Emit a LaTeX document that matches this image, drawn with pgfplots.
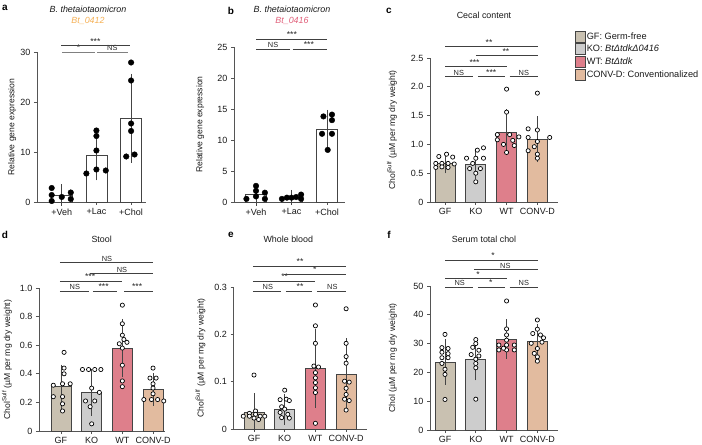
\documentclass[border=0pt]{standalone}
\usepackage{fontspec}
\setmainfont{Liberation Sans}
\usepackage{pgfplots}
\pgfplotsset{compat=1.18}

\definecolor{gfcol}{HTML}{C9C1B1}
\definecolor{kocol}{HTML}{CDCDCD}
\definecolor{wtcol}{HTML}{DE7F8B}
\definecolor{cvcol}{HTML}{E2BB9F}
\definecolor{orangeT}{HTML}{F5B055}
\definecolor{pinkT}{HTML}{E0607A}
\definecolor{axcol}{HTML}{555555}
\definecolor{edgecol}{HTML}{444444}

\newcommand{\fs}[1]{\fontsize{#1}{#1}\selectfont}

\pgfplotsset{
  panel/.style={
    scale only axis, clip=false,
    axis x line*=bottom, axis y line*=left,
    axis line style={draw=axcol, line width=0.8bp},
    tick align=outside,
    major tick length=3bp,
    every tick/.style={draw=axcol, line width=0.8bp},
    tick label style={font=\fs{9bp}, text=black!90},
    every axis y label/.style={rotate=90, anchor=center, font=\fs{8.6bp}, text=black!90},
  },
  bbar/.style 2 args={ybar, bar shift=0pt, bar width=#1, draw=edgecol, line width=0.8bp,
    /pgfplots/error bars/y dir=both, /pgfplots/error bars/y explicit,
    /pgfplots/error bars/error bar style={draw=edgecol, line width=0.8bp},
    /pgfplots/error bars/error mark options={draw=edgecol, line width=0.8bp, mark size=#2}},
  adot/.style={only marks, mark=*, mark size=2.8bp, mark options={fill=black, draw=black}},
  odot/.style={only marks, mark=*, mark size=2.1bp, mark options={fill=white, draw=black, line width=0.7bp}},
}
\tikzset{
  sigline/.style={draw=black!75, line width=0.6bp},
  sigthick/.style={draw=black!50, line width=1.4bp},
  sigtext/.style={anchor=south, inner sep=1.2bp, font=\fs{7.4bp}, text=black!85},
}
\newcommand{\st}[1]{{\fs{8.6bp}#1}}
\newcommand{\sig}[6][sigline]{\draw[#1] (axis cs:#2,#4) -- (axis cs:#3,#4); \node[sigtext] at (axis cs:#5,#4) {#6};}

\begin{document}
\begin{tikzpicture}
\useasboundingbox (0,0) rectangle (702bp,445bp);

% panel letters and titles
\node[font=\bfseries\fs{10bp}] at (5bp,437bp) {a};
\node[font=\bfseries\fs{10bp}] at (231bp,434bp) {b};
\node[font=\bfseries\fs{10bp}] at (389bp,434bp) {c};
\node[font=\bfseries\fs{10bp}] at (5bp,210bp) {d};
\node[font=\bfseries\fs{10bp}] at (231bp,210bp) {e};
\node[font=\bfseries\fs{10bp}] at (389bp,210bp) {f};
\node[font=\itshape\fs{8.9bp}, text=black!90] at (88bp,435.5bp) {B. thetaiotaomicron};
\node[font=\itshape\fs{8.9bp}, text=orangeT] at (88bp,424.3bp) {Bt\_0412};
\node[font=\itshape\fs{8.9bp}, text=black!90] at (292bp,435.5bp) {B. thetaiotaomicron};
\node[font=\itshape\fs{8.9bp}, text=pinkT] at (292bp,424.3bp) {Bt\_0416};
\node[font=\fs{8.9bp}, text=black!90] at (484bp,430bp) {Cecal content};
\node[font=\fs{8.9bp}, text=black!90] at (101.7bp,206bp) {Stool};
\node[font=\fs{8.9bp}, text=black!90] at (288.3bp,206bp) {Whole blood};
\node[font=\fs{8.9bp}, text=black!90] at (484bp,206bp) {Serum total chol};

% ---------------- panel a
\begin{axis}[panel, at={(37bp,243bp)}, anchor=south west, width=109bp, height=150bp,
  xmin=-0.714, xmax=2.43, ymin=0, ymax=30,
  xtick={0,1,2}, xticklabels={+Veh,+Lac,+Chol},
  ytick={0,10,20,30}, yticklabels={0,10,20,30},
  ylabel={Relative gene expression},
  ylabel style={at={(axis description cs:-0.229,0.5)}}]
\addplot[bbar={21bp}{6.5bp}, fill=white] coordinates {(0,1.35) +- (0,0.85)};
\addplot[bbar={21bp}{6.5bp}, fill=white] coordinates {(1,9.3) +- (0,3.7)};
\addplot[bbar={21bp}{6.5bp}, fill=white] coordinates {(2,16.7) +- (0,7.6)};
\addplot[adot] coordinates {(-0.29,2.8) (-0.29,1.4) (-0.29,0.2) (0,1.0) (0.26,1.9) (0.26,0.6)};
\addplot[adot] coordinates {(1,14.3) (1,13.2) (1,10.3) (1,6.5) (0.71,5.7) (1.27,6.3)};
\addplot[adot] coordinates {(2,27.9) (2,24.3) (2,15.7) (2,14.2) (1.86,9.1) (2.1,9.5)};
\sig[sigthick]{0.02}{0.97}{29.94}{0.486}{\st{*}}
\sig[sigthick]{1.02}{1.91}{29.94}{1.46}{NS}
\sig{-0.01}{1.97}{31.26}{0.97}{\st{***}}
\end{axis}

% ---------------- panel b
\begin{axis}[panel, at={(234bp,243bp)}, anchor=south west, width=111bp, height=155bp,
  xmin=-0.62, xmax=2.507, ymin=0, ymax=25,
  xtick={0,1,2}, xticklabels={+Veh,+Lac,+Chol},
  ytick={0,5,10,15,20,25}, yticklabels={0,5,10,15,20,25},
  ylabel={Relative gene expression},
  ylabel style={at={(axis description cs:-0.306,0.5)}}]
\addplot[bbar={21bp}{6bp}, fill=white] coordinates {(0,1.15) +- (0,0.8)};
\addplot[bbar={21bp}{6bp}, fill=white] coordinates {(1,0.73) +- (0,0.25)};
\addplot[bbar={21bp}{6bp}, fill=white] coordinates {(2,11.7) +- (0,2.2)};
\addplot[adot] coordinates {(0,2.6) (0,1.8) (0,0.9) (-0.27,0.5) (0.25,1.5) (0.25,0.5)};
\addplot[adot] coordinates {(0.73,0.5) (0.87,0.7) (1,0.7) (1.13,0.8) (1.27,1.2) (1.27,0.5)};
\addplot[adot] coordinates {(1.9,13.8) (2.14,14.1) (2.14,13.2) (1.86,11.0) (2.14,11.0) (2.02,8.4)};
\sig{0}{0.96}{24.63}{0.48}{NS}
\sig{1.03}{2}{24.63}{1.49}{\st{***}}
\sig{0}{2}{26.24}{1.01}{\st{***}}
\end{axis}

% ---------------- panel c
\begin{axis}[panel, at={(430bp,243bp)}, anchor=south west, width=128bp, height=144bp,
  xmin=-0.487, xmax=3.67, ymin=0, ymax=2.5,
  xtick={0,1,2,3}, xticklabels={GF,KO,WT,CONV-D},
  ytick={0,0.5,1,1.5,2,2.5}, yticklabels={0,0.5,1.0,1.5,2.0,2.5},
  ylabel={Chol\textsuperscript{Sulf} (µM per mg dry weight)},
  ylabel style={at={(axis description cs:-0.297,0.5)}},
  legend style={at={(1.133,1.19)}, anchor=north west, draw=none, fill=none,
    font=\fs{9.2bp}, text=black!90, inner sep=0pt, row sep=0.8bp,
    nodes={inner sep=0.8bp, text height=7bp, text depth=2bp}},
  legend cell align=left,
  legend image code/.code={\draw[#1] (0bp,-5.5bp) rectangle (10bp,5.5bp);}]
\addlegendimage{fill=gfcol, draw=edgecol, line width=0.8bp}
\addlegendentry{GF: Germ-free}
\addlegendimage{fill=kocol, draw=edgecol, line width=0.8bp}
\addlegendentry{KO: \textit{BtΔtdkΔ0416}}
\addlegendimage{fill=wtcol, draw=edgecol, line width=0.8bp}
\addlegendentry{WT: \textit{BtΔtdk}}
\addlegendimage{fill=cvcol, draw=edgecol, line width=0.8bp}
\addlegendentry{CONV-D: Conventionalized}
\addplot[bbar={20bp}{5bp}, fill=gfcol, forget plot] coordinates {(0,0.67) +- (0,0.085)};
\addplot[bbar={20bp}{5bp}, fill=kocol, forget plot] coordinates {(1,0.66) +- (0,0.18)};
\addplot[bbar={20bp}{5bp}, fill=wtcol, forget plot] coordinates {(2,1.21) +- (0,0.31)};
\addplot[bbar={20bp}{5bp}, fill=cvcol, forget plot] coordinates {(3,1.09) +- (0,0.31)};
\addplot[odot, forget plot] coordinates {(-0.2,0.79) (0.05,0.83) (0.25,0.78) (-0.3,0.67) (-0.1,0.67) (0.1,0.67) (0.3,0.66) (-0.3,0.60) (-0.1,0.61) (0.1,0.60)};
\addplot[odot, forget plot] coordinates {(1.25,0.94) (1.05,0.90) (0.7,0.76) (1,0.76) (1.25,0.76) (0.9,0.67) (0.8,0.58) (1.15,0.58) (1,0.50) (1,0.35)};
\addplot[odot, forget plot] coordinates {(2,1.96) (2,1.56) (1.7,1.17) (2.1,1.17) (2.4,1.13) (1.7,1.08) (2.2,1.07) (1.9,1.0) (2.25,0.98) (2,0.86)};
\addplot[odot, forget plot] coordinates {(3,1.89) (2.7,1.27) (3,1.25) (3.4,1.12) (2.7,1.12) (3,1.05) (2.9,0.96) (2.7,0.89) (3,0.83) (3,0.76)};
\sig{0}{0.91}{2.175}{0.45}{NS}
\sig{1.07}{1.94}{2.175}{1.5}{\st{***}}
\sig{2.1}{3.02}{2.175}{2.56}{NS}
\sig{0}{2.01}{2.35}{0.96}{\st{***}}
\sig{1.0}{3.02}{2.54}{1.98}{\st{**}}
\sig{0}{3.02}{2.70}{1.43}{\st{**}}
\end{axis}

% ---------------- panel d
\begin{axis}[panel, at={(39bp,14bp)}, anchor=south west, width=126bp, height=143bp,
  xmin=-0.717, xmax=3.39, ymin=0, ymax=1,
  xtick={0,1,2,3}, xticklabels={GF,KO,WT,CONV-D},
  ytick={0,0.2,0.4,0.6,0.8,1}, yticklabels={0,0.2,0.4,0.6,0.8,1.0},
  ylabel={Chol\textsuperscript{Sulf} (µM per mg dry weight)},
  ylabel style={at={(axis description cs:-0.254,0.5)}}]
\addplot[bbar={20bp}{5bp}, fill=gfcol] coordinates {(0,0.31) +- (0,0.12)};
\addplot[bbar={20bp}{5bp}, fill=kocol] coordinates {(1,0.27) +- (0,0.13)};
\addplot[bbar={20bp}{5bp}, fill=wtcol] coordinates {(2,0.58) +- (0,0.17)};
\addplot[bbar={20bp}{5bp}, fill=cvcol] coordinates {(3,0.29) +- (0,0.08)};
\addplot[odot] coordinates {(0.1,0.55) (0.1,0.44) (0.1,0.40) (-0.25,0.32) (0.05,0.33) (0.3,0.33) (-0.25,0.24) (0.05,0.24) (0.05,0.19) (0.05,0.14)};
\addplot[odot] coordinates {(0.7,0.43) (0.9,0.43) (1.1,0.43) (1.3,0.43) (1,0.30) (1.25,0.27) (0.8,0.21) (1.1,0.21) (0.95,0.17) (1,0.05)};
\addplot[odot] coordinates {(2,0.88) (2,0.75) (2,0.67) (2.05,0.64) (1.9,0.61) (2.15,0.62) (2,0.58) (2,0.46) (2,0.35) (2,0.31)};
\addplot[odot] coordinates {(3,0.44) (2.9,0.37) (3.1,0.37) (3,0.33) (3,0.30) (3,0.26) (2.7,0.22) (2.95,0.22) (3.15,0.22) (3.35,0.21)};
\sig{-0.04}{0.9}{0.977}{0.45}{NS}
\sig{1.04}{1.82}{0.977}{1.39}{\st{***}}
\sig{2.06}{3.0}{0.977}{2.48}{\st{***}}
\sig{-0.04}{1.99}{1.047}{0.95}{\st{***}}
\sig{0.95}{3.0}{1.10}{1.99}{NS}
\sig{-0.04}{3.0}{1.178}{1.5}{NS}
\end{axis}

% ---------------- panel e
\begin{axis}[panel, at={(233.5bp,16bp)}, anchor=south west, width=133.5bp, height=142bp,
  xmin=-0.668, xmax=3.68, ymin=0, ymax=0.3,
  xtick={0,1,2,3}, xticklabels={GF,KO,WT,CONV-D},
  ytick={0,0.1,0.2,0.3}, yticklabels={0,0.1,0.2,0.3},
  ylabel={Chol\textsuperscript{Sulf} (µM per mg dry weight)},
  ylabel style={at={(axis description cs:-0.247,0.5)}}]
\addplot[bbar={20bp}{5bp}, fill=gfcol] coordinates {(0,0.036) +- (0,0.029)};
\addplot[bbar={20bp}{5bp}, fill=kocol] coordinates {(1,0.041) +- (0,0.022)};
\addplot[bbar={20bp}{5bp}, fill=wtcol] coordinates {(2,0.128) +- (0,0.073)};
\addplot[bbar={20bp}{5bp}, fill=cvcol] coordinates {(3,0.116) +- (0,0.065)};
\addplot[odot] coordinates {(0,0.114) (0.05,0.038) (-0.15,0.033) (-0.35,0.027) (-0.15,0.027) (0.05,0.031) (0.2,0.027) (0.35,0.027) (0,0.023) (0.15,0.02)};
\addplot[odot] coordinates {(1,0.082) (0.85,0.062) (1.05,0.063) (1.15,0.06) (0.9,0.047) (1,0.042) (0.85,0.035) (1.1,0.031) (0.9,0.024) (1.15,0.023)};
\addplot[odot] coordinates {(2,0.262) (2,0.218) (2,0.181) (1.95,0.133) (2.1,0.131) (2,0.119) (2,0.108) (2,0.098) (2,0.087) (2,0.077) (2,0.012)};
\addplot[odot] coordinates {(3,0.254) (3,0.181) (3,0.153) (3,0.139) (2.95,0.101) (3.1,0.099) (3,0.086) (3,0.073) (2.95,0.063) (3.1,0.06) (3,0.04)};
\sig{-0.04}{0.89}{0.2916}{0.45}{NS}
\sig{1.04}{1.89}{0.2916}{1.5}{\st{**}}
\sig{2.05}{3.0}{0.2916}{2.55}{NS}
\sig{-0.04}{1.98}{0.3127}{1.0}{\st{**}}
\sig{0.97}{3.0}{0.3275}{1.98}{\st{*}}
\sig{-0.04}{3.0}{0.344}{1.5}{\st{**}}
\end{axis}

% ---------------- panel f
\begin{axis}[panel, at={(430bp,15bp)}, anchor=south west, width=128bp, height=144bp,
  xmin=-0.487, xmax=3.67, ymin=0, ymax=50,
  xtick={0,1,2,3}, xticklabels={GF,KO,WT,CONV-D},
  ytick={0,10,20,30,40,50}, yticklabels={0,10,20,30,40,50},
  ylabel={Chol (µM per mg dry weight)},
  ylabel style={at={(axis description cs:-0.289,0.5)}}]
\addplot[bbar={20bp}{5bp}, fill=gfcol] coordinates {(0,23.6) +- (0,6.2)};
\addplot[bbar={20bp}{5bp}, fill=kocol] coordinates {(1,24.6) +- (0,5.6)};
\addplot[bbar={20bp}{5bp}, fill=wtcol] coordinates {(2,31.6) +- (0,5.2)};
\addplot[bbar={20bp}{5bp}, fill=cvcol] coordinates {(3,30.6) +- (0,4.4)};
\addplot[odot] coordinates {(0,33.2) (-0.1,28.6) (0.1,28.3) (-0.1,27.0) (0.1,26.5) (-0.1,25.1) (0.1,25.1) (-0.1,23.1) (0,21.1) (0,19.3) (0,10.6)};
\addplot[odot] coordinates {(1,31.4) (1,30.0) (0.9,28.7) (1.1,27.7) (0.85,26.2) (1.1,25.7) (1,24.6) (1,23.1) (1,21.6) (1,10.7)};
\addplot[odot] coordinates {(2,44.8) (2,35.1) (2,33.0) (2,31.2) (1.75,29.5) (2,29.5) (2.25,29.5) (1.75,27.8) (2,27.8) (2.25,27.8) (1.9,28.4)};
\addplot[odot] coordinates {(3,38.2) (3,35.0) (2.85,33.5) (3.1,33.0) (3.2,32.0) (2.8,30.1) (3.15,30.5) (3,28.3) (2.9,26.6) (3,25.4) (3,23.9)};
\sig{0}{0.91}{49.7}{0.48}{NS}
\sig{1.07}{1.94}{49.7}{1.49}{\st{*}}
\sig{2.1}{3.02}{49.7}{2.56}{NS}
\sig{0}{2.01}{52.6}{1.07}{\st{*}}
\sig{0.94}{3.02}{55.7}{1.96}{NS}
\sig{0}{3.02}{58.9}{1.56}{\st{*}}
\end{axis}
\end{tikzpicture}
\end{document}
